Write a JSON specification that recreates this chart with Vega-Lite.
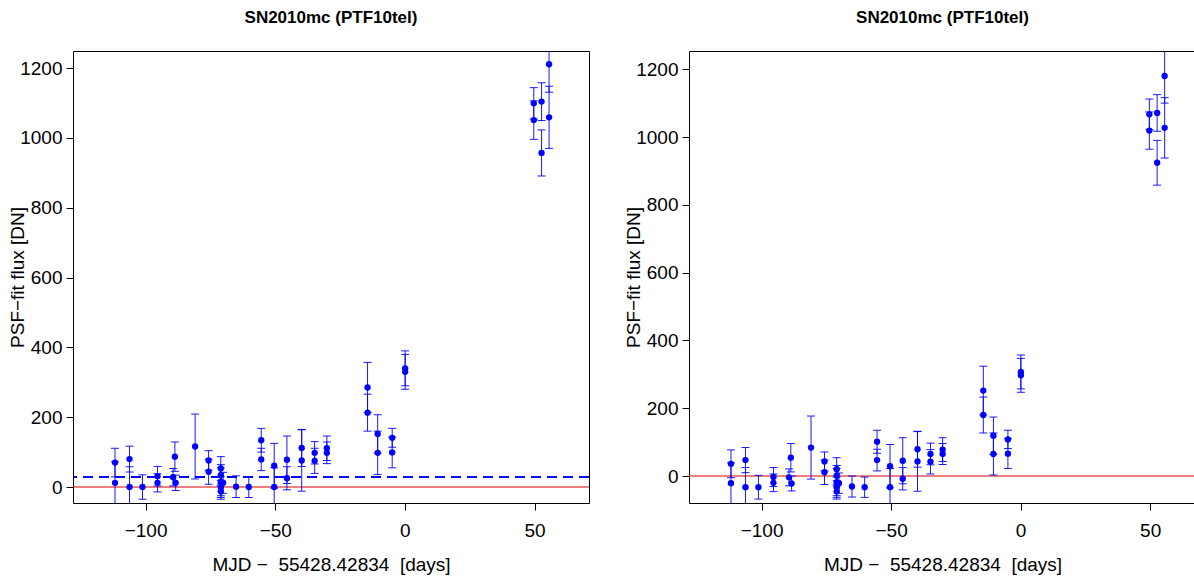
{
  "$schema": "https://vega.github.io/schema/vega-lite/v6.json",
  "padding": {"left": 7, "top": 8, "right": 0, "bottom": 0},
  "background": "white",
  "config": {
    "view": {"stroke": "black", "strokeWidth": 1},
    "font": "Liberation Sans",
    "axis": {"grid": false, "domain": false, "tickColor": "black", "tickSize": 7, "tickWidth": 1, "labelFontSize": 19, "labelColor": "black", "titleFontSize": 19, "titleFontWeight": "normal", "titleColor": "black", "labelFont": "Liberation Sans", "titleFont": "Liberation Sans"},
    "title": {"fontSize": 17, "font": "Liberation Sans", "fontWeight": "bold", "color": "black"}
  },
  "datasets": {
    "sn": [
      {"t": -111.8, "f": 70, "flo": 29, "fhi": 111, "g": 36, "glo": -5, "ghi": 77},
      {"t": -111.8, "f": 12, "flo": -48, "fhi": 72, "g": -21, "glo": -81, "ghi": 39},
      {"t": -106.2, "f": 80, "flo": 43, "fhi": 117, "g": 47, "glo": 10, "ghi": 84},
      {"t": -106.2, "f": 0, "flo": -58, "fhi": 58, "g": -33, "glo": -91, "ghi": 25},
      {"t": -101.2, "f": 0, "flo": -35, "fhi": 35, "g": -33, "glo": -68, "ghi": 2},
      {"t": -95.4, "f": 31, "flo": 3, "fhi": 59, "g": -3, "glo": -31, "ghi": 25},
      {"t": -95.4, "f": 12, "flo": -14, "fhi": 38, "g": -20, "glo": -46, "ghi": 6},
      {"t": -89.4, "f": 28, "flo": 3, "fhi": 53, "g": -4, "glo": -29, "ghi": 21},
      {"t": -88.7, "f": 87, "flo": 45, "fhi": 129, "g": 54, "glo": 12, "ghi": 96},
      {"t": -88.4, "f": 12, "flo": -10, "fhi": 34, "g": -22, "glo": -44, "ghi": 0},
      {"t": -80.9, "f": 116, "flo": 23, "fhi": 209, "g": 84, "glo": -9, "ghi": 177},
      {"t": -75.7, "f": 76, "flo": 48, "fhi": 104, "g": 43, "glo": 15, "ghi": 71},
      {"t": -75.7, "f": 44, "flo": 8, "fhi": 80, "g": 11, "glo": -25, "ghi": 47},
      {"t": -71.0, "f": 53, "flo": 19, "fhi": 87, "g": 20, "glo": -14, "ghi": 54},
      {"t": -71.0, "f": 34, "flo": 4, "fhi": 64, "g": 1, "glo": -29, "ghi": 31},
      {"t": -71.0, "f": 15, "flo": -25, "fhi": 55, "g": -18, "glo": -58, "ghi": 22},
      {"t": -71.0, "f": 0, "flo": -30, "fhi": 30, "g": -33, "glo": -63, "ghi": -3},
      {"t": -71.0, "f": -13, "flo": -35, "fhi": 9, "g": -46, "glo": -68, "ghi": -24},
      {"t": -70.1, "f": 12, "flo": -18, "fhi": 42, "g": -21, "glo": -51, "ghi": 9},
      {"t": -65.1, "f": 1, "flo": -30, "fhi": 32, "g": -31, "glo": -62, "ghi": 0},
      {"t": -60.2, "f": 0, "flo": -30, "fhi": 30, "g": -33, "glo": -63, "ghi": -3},
      {"t": -55.4, "f": 134, "flo": 100, "fhi": 168, "g": 101, "glo": 67, "ghi": 135},
      {"t": -55.4, "f": 79, "flo": 47, "fhi": 111, "g": 47, "glo": 15, "ghi": 79},
      {"t": -50.4, "f": 61, "flo": -3, "fhi": 125, "g": 29, "glo": -35, "ghi": 93},
      {"t": -50.4, "f": 0, "flo": -55, "fhi": 55, "g": -33, "glo": -88, "ghi": 22},
      {"t": -45.5, "f": 78, "flo": 10, "fhi": 146, "g": 45, "glo": -23, "ghi": 113},
      {"t": -45.5, "f": 25, "flo": -8, "fhi": 58, "g": -8, "glo": -41, "ghi": 25},
      {"t": -39.8, "f": 112, "flo": 59, "fhi": 165, "g": 79, "glo": 26, "ghi": 132},
      {"t": -39.8, "f": 76, "flo": -12, "fhi": 164, "g": 43, "glo": -45, "ghi": 131},
      {"t": -34.8, "f": 98, "flo": 66, "fhi": 130, "g": 65, "glo": 33, "ghi": 97},
      {"t": -34.8, "f": 75, "flo": 39, "fhi": 111, "g": 42, "glo": 6, "ghi": 78},
      {"t": -30.1, "f": 111, "flo": 76, "fhi": 146, "g": 78, "glo": 43, "ghi": 113},
      {"t": -30.1, "f": 98, "flo": 67, "fhi": 129, "g": 65, "glo": 34, "ghi": 96},
      {"t": -14.4, "f": 285, "flo": 213, "fhi": 357, "g": 252, "glo": 180, "ghi": 324},
      {"t": -14.4, "f": 213, "flo": 160, "fhi": 266, "g": 180, "glo": 127, "ghi": 233},
      {"t": -10.5, "f": 152, "flo": 97, "fhi": 207, "g": 119, "glo": 64, "ghi": 174},
      {"t": -10.5, "f": 98, "flo": 36, "fhi": 160, "g": 65, "glo": 3, "ghi": 127},
      {"t": -4.9, "f": 141, "flo": 114, "fhi": 168, "g": 108, "glo": 81, "ghi": 135},
      {"t": -4.9, "f": 99, "flo": 55, "fhi": 143, "g": 66, "glo": 22, "ghi": 110},
      {"t": 0.1, "f": 340, "flo": 290, "fhi": 390, "g": 307, "glo": 257, "ghi": 357},
      {"t": 0.1, "f": 330, "flo": 280, "fhi": 380, "g": 297, "glo": 247, "ghi": 347},
      {"t": 49.7, "f": 1099, "flo": 1054, "fhi": 1144, "g": 1067, "glo": 1022, "ghi": 1112},
      {"t": 49.7, "f": 1051, "flo": 996, "fhi": 1106, "g": 1019, "glo": 964, "ghi": 1074},
      {"t": 52.7, "f": 1104, "flo": 1050, "fhi": 1158, "g": 1071, "glo": 1017, "ghi": 1125},
      {"t": 52.7, "f": 957, "flo": 891, "fhi": 1023, "g": 924, "glo": 858, "ghi": 990},
      {"t": 55.6, "f": 1211, "flo": 1131, "fhi": 1291, "g": 1180, "glo": 1100, "ghi": 1260},
      {"t": 55.6, "f": 1059, "flo": 970, "fhi": 1148, "g": 1027, "glo": 938, "ghi": 1116}
    ]
  },
  "spacing": 32,
  "hconcat": [
    {
      "width": 516,
      "height": 452,
      "title": {"text": "SN2010mc (PTF10tel)", "frame": "group", "offset": 24},
      "layer": [
        {
          "data": {"values": [{"z": 0}]},
          "mark": {"type": "rule", "color": "#E00000", "strokeWidth": 1.2},
          "encoding": {
            "y": {"field": "z", "type": "quantitative", "scale": {"domain": [-45.8, 1249], "nice": false, "zero": false},
              "axis": {"values": [0, 200, 400, 600, 800, 1000, 1200], "format": "d", "title": "PSF−fit flux [DN]", "labelPadding": 4, "titleX": -50, "titleY": 226, "titleBaseline": "alphabetic"}}
          }
        },
        {
          "data": {"values": [{"z": 29}]},
          "mark": {"type": "rule", "color": "#0000FF", "strokeWidth": 2, "strokeDash": [10, 6]},
          "encoding": {"y": {"field": "z", "type": "quantitative"}}
        },
        {
          "data": {"name": "sn"},
          "mark": {"type": "rule", "color": "#0000FF", "strokeWidth": 1, "opacity": 0.9, "clip": true},
          "encoding": {
            "x": {"field": "t", "type": "quantitative", "scale": {"domain": [-128, 71], "nice": false, "zero": false},
              "axis": {"values": [-100, -50, 0, 50], "format": "d", "title": "MJD −\u00a0 55428.42834\u00a0 [days]", "labelPadding": 11, "titleY": 67, "titleBaseline": "alphabetic", "labelFlush": false}},
            "y": {"field": "flo", "type": "quantitative"},
            "y2": {"field": "fhi"}
          }
        },
        {
          "data": {"name": "sn"},
          "mark": {"type": "tick", "orient": "horizontal", "size": 8, "thickness": 1, "color": "#0000FF", "opacity": 0.9, "clip": true},
          "encoding": {"x": {"field": "t", "type": "quantitative"}, "y": {"field": "flo", "type": "quantitative"}}
        },
        {
          "data": {"name": "sn"},
          "mark": {"type": "tick", "orient": "horizontal", "size": 8, "thickness": 1, "color": "#0000FF", "opacity": 0.9, "clip": true},
          "encoding": {"x": {"field": "t", "type": "quantitative"}, "y": {"field": "fhi", "type": "quantitative"}}
        },
        {
          "data": {"name": "sn"},
          "mark": {"type": "circle", "size": 40, "color": "#0000FF", "opacity": 1, "clip": true},
          "encoding": {"x": {"field": "t", "type": "quantitative"}, "y": {"field": "f", "type": "quantitative"}}
        }
      ]
    },
    {
      "width": 507,
      "height": 452,
      "title": {"text": "SN2010mc (PTF10tel)", "frame": "group", "offset": 24},
      "layer": [
        {
          "data": {"values": [{"z": 0}]},
          "mark": {"type": "rule", "color": "#E00000", "strokeWidth": 1.2},
          "encoding": {
            "y": {"field": "z", "type": "quantitative", "scale": {"domain": [-79.6, 1253.7], "nice": false, "zero": false},
              "axis": {"values": [0, 200, 400, 600, 800, 1000, 1200], "format": "d", "title": "PSF−fit flux [DN]", "labelPadding": 4, "titleX": -50, "titleY": 226, "titleBaseline": "alphabetic"}}
          }
        },
        {
          "data": {"name": "sn"},
          "mark": {"type": "rule", "color": "#0000FF", "strokeWidth": 1, "opacity": 0.9, "clip": true},
          "encoding": {
            "x": {"field": "t", "type": "quantitative", "scale": {"domain": [-128, 67.7], "nice": false, "zero": false},
              "axis": {"values": [-100, -50, 0, 50], "format": "d", "title": "MJD −\u00a0 55428.42834\u00a0 [days]", "labelPadding": 11, "titleY": 67, "titleBaseline": "alphabetic", "labelFlush": false}},
            "y": {"field": "glo", "type": "quantitative"},
            "y2": {"field": "ghi"}
          }
        },
        {
          "data": {"name": "sn"},
          "mark": {"type": "tick", "orient": "horizontal", "size": 8, "thickness": 1, "color": "#0000FF", "opacity": 0.9, "clip": true},
          "encoding": {"x": {"field": "t", "type": "quantitative"}, "y": {"field": "glo", "type": "quantitative"}}
        },
        {
          "data": {"name": "sn"},
          "mark": {"type": "tick", "orient": "horizontal", "size": 8, "thickness": 1, "color": "#0000FF", "opacity": 0.9, "clip": true},
          "encoding": {"x": {"field": "t", "type": "quantitative"}, "y": {"field": "ghi", "type": "quantitative"}}
        },
        {
          "data": {"name": "sn"},
          "mark": {"type": "circle", "size": 40, "color": "#0000FF", "opacity": 1, "clip": true},
          "encoding": {"x": {"field": "t", "type": "quantitative"}, "y": {"field": "g", "type": "quantitative"}}
        }
      ]
    }
  ]
}
